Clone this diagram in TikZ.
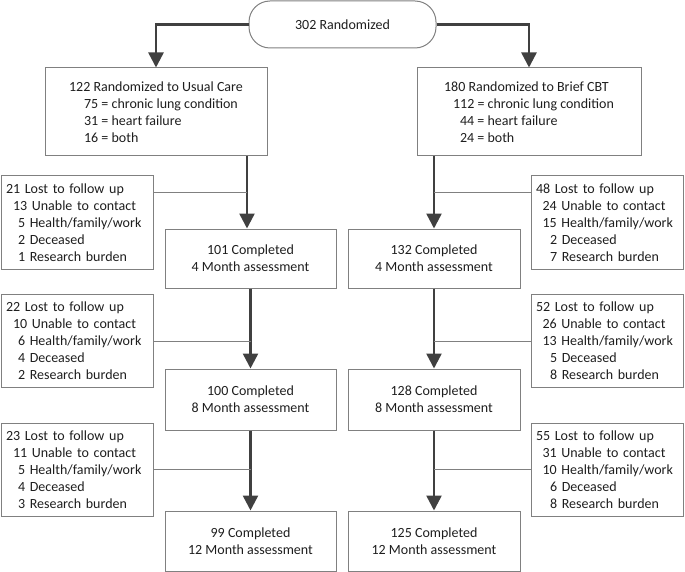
\documentclass[tikz,border=0pt]{standalone}
\usepackage{fontspec}
\setmainfont{Carlito}
\usetikzlibrary{arrows.meta,calc}
\definecolor{boxgray}{HTML}{808080}
\definecolor{arrowgray}{HTML}{404040}
\definecolor{txt}{HTML}{1E1E1E}
\begin{document}
\begin{tikzpicture}[x=1pt,y=-1pt,
  basebox/.style={draw=boxgray,line width=1pt,text=txt,inner sep=0pt,
    font=\fontsize{14}{17}\selectfont},
  startbox/.style={basebox,rounded corners=21pt,minimum width=187pt,minimum height=47pt},
  groupbox/.style={basebox,align=left,minimum height=88pt},
  sidebox/.style={basebox,align=left,inner xsep=5pt,text width=142pt,minimum height=93pt},
  donebox/.style={basebox,align=center,minimum width=171pt,minimum height=60pt},
  flow/.style={draw=arrowgray,line width=2.5pt,-{Triangle[length=15pt,width=15pt]}},
  flowline/.style={draw=arrowgray,line width=2.5pt},
  link/.style={draw=boxgray,line width=1pt}]
\useasboundingbox (0,0) rectangle (685,572);

\node[startbox] (top) at (342.5,24.5) {302 Randomized};

\node[groupbox,minimum width=222pt] (gL) at (156,112)
  {122 Randomized to Usual Care\\
   \hspace*{15pt}75 = chronic lung condition\\
   \hspace*{15pt}31 = heart failure\\
   \hspace*{15pt}16 = both};
\node[groupbox,minimum width=224pt] (gR) at (529,112)
  {180 Randomized to Brief CBT\\
   \hspace*{9pt}112 = chronic lung condition\\
   \hspace*{16pt}44 = heart failure\\
   \hspace*{16pt}24 = both};

\node[sidebox] (sL1) at (77,222.5)
  {21 Lost to follow up\\
   \hspace*{7pt}13 Unable to contact\\
   \hspace*{12pt}5 Health/family/work\\
   \hspace*{12pt}2 Deceased\\
   \hspace*{12pt}1 Research burden};
\node[sidebox] (sL2) at (77,341)
  {22 Lost to follow up\\
   \hspace*{7pt}10 Unable to contact\\
   \hspace*{12pt}6 Health/family/work\\
   \hspace*{12pt}4 Deceased\\
   \hspace*{12pt}2 Research burden};
\node[sidebox] (sL3) at (77,469.5)
  {23 Lost to follow up\\
   \hspace*{7pt}11 Unable to contact\\
   \hspace*{12pt}5 Health/family/work\\
   \hspace*{12pt}4 Deceased\\
   \hspace*{12pt}3 Research burden};

\node[sidebox] (sR1) at (607,222.5)
  {48 Lost to follow up\\
   \hspace*{6.5pt}24 Unable to contact\\
   \hspace*{6.5pt}15 Health/family/work\\
   \hspace*{14pt}2 Deceased\\
   \hspace*{14pt}7 Research burden};
\node[sidebox] (sR2) at (607,341)
  {52 Lost to follow up\\
   \hspace*{6.5pt}26 Unable to contact\\
   \hspace*{6.5pt}13 Health/family/work\\
   \hspace*{14pt}5 Deceased\\
   \hspace*{14pt}8 Research burden};
\node[sidebox] (sR3) at (607,469.5)
  {55 Lost to follow up\\
   \hspace*{6.5pt}31 Unable to contact\\
   \hspace*{6.5pt}10 Health/family/work\\
   \hspace*{14pt}6 Deceased\\
   \hspace*{14pt}8 Research burden};

\node[donebox,minimum height=59pt] (cL1) at (250.5,258.5) {101 Completed\\4 Month assessment};
\node[donebox,minimum height=61pt] (cL2) at (250.5,399.5) {100 Completed\\8 Month assessment};
\node[donebox] (cL3) at (250.5,541) {99 Completed\\12 Month assessment};
\node[donebox,minimum width=172pt,minimum height=59pt] (cR1) at (434,258.5) {132 Completed\\4 Month assessment};
\node[donebox,minimum width=172pt,minimum height=61pt] (cR2) at (434,399.5) {128 Completed\\8 Month assessment};
\node[donebox,minimum width=172pt] (cR3) at (434,541) {125 Completed\\12 Month assessment};

% top split
\draw[flow] (top.west) -| (gL.north);
\draw[flow] (top.east) -| (gR.north);

% group boxes to first assessments
\coordinate (aL) at ([xshift=-3.5pt]cL1.north);
\coordinate (vL) at (aL |- gL.south);
\draw[flow] (vL) -- (aL);
\draw[flow] (cR1.north |- gR.south) -- (cR1.north);

% later assessments
\draw[flow] (cL1.south) -- (cL2.north);
\draw[flow] (cL2.south) -- (cL3.north);
\draw[flow] (cR1.south) -- (cR2.north);
\draw[flow] (cR2.south) -- (cR3.north);

% loss connectors
\coordinate (jL1) at ([yshift=29.5pt]sL1.east);
\coordinate (jR1) at ([yshift=29.5pt]sR1.west);
\draw[link] (jL1) -- (jL1 -| aL);
\draw[link] (jR1) -- (jR1 -| cR1.north);
\draw[link] (sL2.east) -- (sL2.east -| cL2.north);
\draw[link] (sL3.east) -- (sL3.east -| cL3.north);
\draw[link] (sR2.west) -- (sR2.west -| cR2.north);
\draw[link] (sR3.west) -- (sR3.west -| cR3.north);
\end{tikzpicture}
\end{document}
